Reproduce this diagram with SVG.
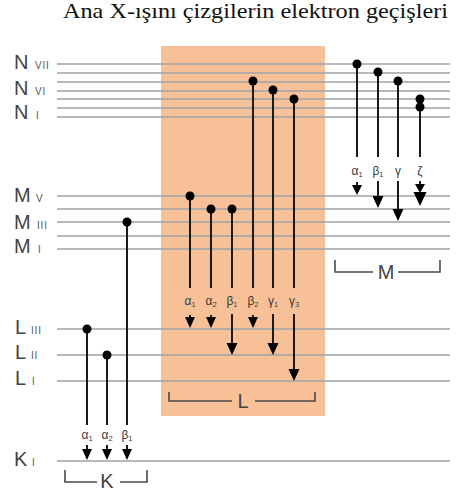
<svg xmlns="http://www.w3.org/2000/svg" width="457" height="494" viewBox="0 0 457 494">
<style>
.title{font-family:"Liberation Serif","Times New Roman",serif;font-size:21px;fill:#111}
.lv{font-family:"Liberation Sans",Arial,sans-serif;font-size:20px;fill:#444}
.sub{font-family:"Liberation Sans",Arial,sans-serif;font-size:10px;fill:#555;letter-spacing:0.8px}
.ln{stroke:#9ea2a8;stroke-width:1.6;fill:none}
.tr{stroke:#1a1a1a;stroke-width:2;fill:none}
.dot{fill:#000}
.head{fill:#000}
.gl{font-family:"Liberation Sans",Arial,sans-serif;font-size:12px;fill:#3a3a3a;text-anchor:middle}
.gs{font-size:7.5px}
.br{stroke:#4a4a4a;stroke-width:1.6;fill:none}
.bl{font-family:"Liberation Sans",Arial,sans-serif;font-size:20px;fill:#444;text-anchor:middle}
</style>
<rect x="0" y="0" width="457" height="494" fill="#fff"/>
<text class="title" x="63" y="18" textLength="385" lengthAdjust="spacingAndGlyphs">Ana X-ışını çizgilerin elektron geçişleri</text>
<rect id="L-series-area" x="161" y="46" width="164" height="370" fill="#f7c096"/>

<g id="levels">
 <g id="N-levels">
  <line class="ln" x1="57" y1="64" x2="450" y2="64"/>
  <line class="ln" x1="57" y1="73" x2="450" y2="73"/>
  <line class="ln" x1="57" y1="82" x2="450" y2="82"/>
  <line class="ln" x1="57" y1="91" x2="450" y2="91"/>
  <line class="ln" x1="57" y1="99" x2="450" y2="99"/>
  <line class="ln" x1="57" y1="108" x2="450" y2="108"/>
  <line class="ln" x1="57" y1="117" x2="450" y2="117"/>
  <text class="lv" x="14" y="69">N</text><text class="sub" x="35" y="69">VII</text>
  <text class="lv" x="14" y="95">N</text><text class="sub" x="35" y="95">VI</text>
  <text class="lv" x="14" y="119">N</text><text class="sub" x="36" y="119">I</text>
 </g>
 <g id="M-levels">
  <line class="ln" x1="57" y1="196" x2="450" y2="196"/>
  <line class="ln" x1="57" y1="209" x2="450" y2="209"/>
  <line class="ln" x1="57" y1="222" x2="450" y2="222"/>
  <line class="ln" x1="57" y1="236" x2="450" y2="236"/>
  <line class="ln" x1="57" y1="249" x2="450" y2="249"/>
  <text class="lv" x="14" y="202">M</text><text class="sub" x="36" y="202">V</text>
  <text class="lv" x="14" y="229">M</text><text class="sub" x="37" y="229">III</text>
  <text class="lv" x="14" y="253">M</text><text class="sub" x="38" y="253">I</text>
 </g>
 <g id="L-levels">
  <line class="ln" x1="57" y1="329" x2="450" y2="329"/>
  <line class="ln" x1="57" y1="355" x2="450" y2="355"/>
  <line class="ln" x1="57" y1="381" x2="450" y2="381"/>
  <text class="lv" x="15" y="334">L</text><text class="sub" x="31" y="334">III</text>
  <text class="lv" x="15" y="359">L</text><text class="sub" x="31" y="359">II</text>
  <text class="lv" x="15" y="385">L</text><text class="sub" x="32" y="385">I</text>
 </g>
 <g id="K-level">
  <line class="ln" x1="57" y1="461" x2="450" y2="461"/>
  <text class="lv" x="14" y="466">K</text><text class="sub" x="32" y="466">I</text>
 </g>
</g>

<g id="connectors">
 <g id="K-series">
  <line class="tr" x1="87" y1="329" x2="87" y2="425"/><circle class="dot" cx="87" cy="329" r="4.5"/>
  <line class="tr" x1="107" y1="355" x2="107" y2="425"/><circle class="dot" cx="107" cy="355" r="4.5"/>
  <line class="tr" x1="127" y1="222" x2="127" y2="425"/><circle class="dot" cx="127" cy="222" r="4.5"/>
  <text class="gl" x="87" y="439">α<tspan class="gs" dy="2">1</tspan></text>
  <text class="gl" x="107" y="439">α<tspan class="gs" dy="2">2</tspan></text>
  <text class="gl" x="127" y="439">β<tspan class="gs" dy="2">1</tspan></text>
  <line class="tr" x1="87" y1="445" x2="87" y2="451"/><polygon class="head" points="82,449 92,449 87,460"/>
  <line class="tr" x1="107" y1="445" x2="107" y2="451"/><polygon class="head" points="102,449 112,449 107,460"/>
  <line class="tr" x1="127" y1="445" x2="127" y2="451"/><polygon class="head" points="122,449 132,449 127,460"/>
 </g>
 <g id="L-series">
  <line class="tr" x1="190" y1="196" x2="190" y2="288"/><circle class="dot" cx="190" cy="196" r="4.5"/>
  <line class="tr" x1="211" y1="209" x2="211" y2="288"/><circle class="dot" cx="211" cy="209" r="4.5"/>
  <line class="tr" x1="232" y1="209" x2="232" y2="288"/><circle class="dot" cx="232" cy="209" r="4.5"/>
  <line class="tr" x1="253" y1="82" x2="253" y2="288"/><circle class="dot" cx="253" cy="81" r="4.5"/>
  <line class="tr" x1="273" y1="91" x2="273" y2="288"/><circle class="dot" cx="273" cy="90" r="4.5"/>
  <line class="tr" x1="294" y1="99" x2="294" y2="288"/><circle class="dot" cx="294" cy="99" r="4.5"/>
  <text class="gl" x="190" y="305">α<tspan class="gs" dy="2">1</tspan></text>
  <text class="gl" x="211" y="305">α<tspan class="gs" dy="2">2</tspan></text>
  <text class="gl" x="232" y="305">β<tspan class="gs" dy="2">1</tspan></text>
  <text class="gl" x="253" y="305">β<tspan class="gs" dy="2">2</tspan></text>
  <text class="gl" x="273" y="305">γ<tspan class="gs" dy="2">1</tspan></text>
  <text class="gl" x="294" y="305">γ<tspan class="gs" dy="2">3</tspan></text>
  <line class="tr" x1="190" y1="315" x2="190" y2="320"/><polygon class="head" points="185,317 195,317 190,328"/>
  <line class="tr" x1="211" y1="315" x2="211" y2="320"/><polygon class="head" points="206,317 216,317 211,328"/>
  <line class="tr" x1="232" y1="314" x2="232" y2="345"/><polygon class="head" points="226.5,343 237.5,343 232,355"/>
  <line class="tr" x1="253" y1="315" x2="253" y2="320"/><polygon class="head" points="248,317 258,317 253,328"/>
  <line class="tr" x1="273" y1="314" x2="273" y2="345"/><polygon class="head" points="267.5,343 278.5,343 273,355"/>
  <line class="tr" x1="294" y1="314" x2="294" y2="371"/><polygon class="head" points="288.5,369 299.5,369 294,381"/>
 </g>
 <g id="M-series">
  <line class="tr" x1="357" y1="64" x2="357" y2="157"/><circle class="dot" cx="357" cy="64" r="4.5"/>
  <line class="tr" x1="378" y1="73" x2="378" y2="157"/><circle class="dot" cx="378" cy="72" r="4.5"/>
  <line class="tr" x1="398" y1="82" x2="398" y2="157"/><circle class="dot" cx="398" cy="81" r="4.5"/>
  <line class="tr" x1="420" y1="99" x2="420" y2="157"/><circle class="dot" cx="420" cy="99" r="4.5"/><circle class="dot" cx="420" cy="107" r="4.5"/>
  <text class="gl" x="357" y="175">α<tspan class="gs" dy="2">1</tspan></text>
  <text class="gl" x="378" y="175">β<tspan class="gs" dy="2">1</tspan></text>
  <text class="gl" x="398" y="175">γ</text>
  <text class="gl" x="420" y="175">ζ</text>
  <line class="tr" x1="357" y1="182" x2="357" y2="188"/><polygon class="head" points="352,185 362,185 357,195"/>
  <line class="tr" x1="378" y1="181" x2="378" y2="198"/><polygon class="head" points="372.5,196 383.5,196 378,208"/>
  <line class="tr" x1="398" y1="181" x2="398" y2="211"/><polygon class="head" points="392.5,209 403.5,209 398,221"/>
  <line class="tr" x1="420" y1="181" x2="420" y2="186"/><polygon class="head" points="415,184 425,184 420,193"/><polygon class="head" points="413.5,192 426.5,192 420,206"/>
 </g>
</g>

<g id="brackets">
 <g id="K-bracket">
  <path class="br" d="M65,470 V482 H97 M120,482 H147 V470"/>
  <text class="bl" x="107" y="488">K</text>
 </g>
 <g id="L-bracket">
  <path class="br" d="M169,392 V401 H232 M255,401 H315 V392"/>
  <text class="bl" x="243" y="408">L</text>
 </g>
 <g id="M-bracket">
  <path class="br" d="M335,260 V272 H373 M398,272 H440 V260"/>
  <text class="bl" x="386" y="279">M</text>
 </g>
</g>
</svg>
